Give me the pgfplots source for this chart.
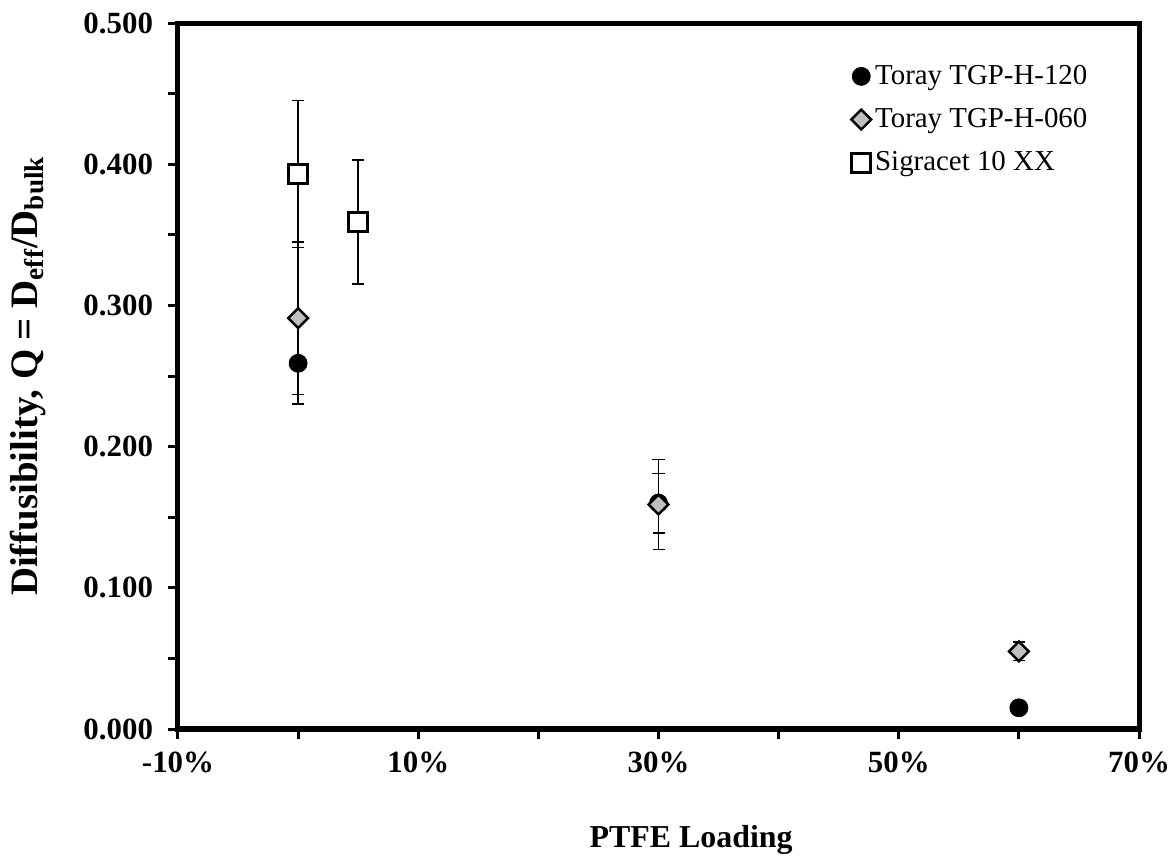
\documentclass[border=0pt]{standalone}
\usepackage{fontspec}
\setmainfont{Liberation Serif}
\usepackage{pgfplots}
\usepackage{pgfplotstable}
\pgfplotsset{compat=1.18}
\pgfplotstableread{
x y e
0 0.259 0.029
30 0.160 0.021
60 0.015 0.000
}\toraytwenty
\pgfplotstableread{
x y e
0 0.291 0.054
30 0.159 0.032
60 0.055 0.0065
}\toraysixty
\pgfplotstableread{
x y e
0 0.393 0.052
5 0.359 0.044
}\sigracet
\begin{document}
\begin{tikzpicture}
\useasboundingbox (-89bp,-64.5bp) rectangle (499bp,364.5bp);
\begin{axis}[
  scale only axis, width=480.5bp, height=353bp,
  xmin=-10, xmax=70, ymin=0, ymax=0.5,
  xtick={-10,10,30,50,70},
  xticklabels={-10\%,10\%,30\%,50\%,70\%},
  minor xtick={0,20,40,60},
  ytick={0,0.1,0.2,0.3,0.4,0.5},
  minor ytick={0.05,0.15,0.25,0.35,0.45},
  xtick pos=lower, ytick pos=left,
  tick align=outside, major tick length=5bp, minor tick length=5bp,
  every tick/.style={line width=1.5bp, black},
  axis line style={line width=2.5bp},
  tick label style={font=\fontsize{15.5}{18}\selectfont\bfseries},
  yticklabel style={xshift=-4bp, /pgf/number format/.cd, fixed, fixed zerofill, precision=3, assume math mode=true},
  xticklabel style={yshift=-3bp},
  xlabel={PTFE Loading},
  ylabel={Diffusibility, Q = D\textsubscript{eff}/D\textsubscript{bulk}},
  xlabel style={font=\fontsize{16}{19}\selectfont\bfseries, at={(axis description cs:0.534,-0.157)}, anchor=center},
  ylabel style={font=\fontsize{19.5}{22}\selectfont\bfseries, at={(axis description cs:-0.156,0.5)}, anchor=center},
  legend style={draw=none, fill=none, at={(0.955,0.952)}, anchor=north east,
    font=\fontsize{14.5}{17}\selectfont, row sep=6.5bp, inner sep=2bp},
  legend cell align=left,
  error bars/y dir=both, error bars/y explicit,
  error bars/error bar style={line width=0.8bp, black},
  error bars/error mark options={rotate=90, mark size=3bp, line width=0.8bp, black},
]
\addplot[only marks, mark=*, mark size=4.5bp, mark options={fill=black, draw=black}]
  table[x=x, y=y, y error=e] {\toraytwenty};
\addlegendentry{Toray TGP-H-120}
\addplot[only marks, mark=square*, mark size=3.5bp, mark options={rotate=45, fill=black!25, draw=black, line width=1.2bp}]
  table[x=x, y=y, y error=e] {\toraysixty};
\addlegendentry{Toray TGP-H-060}
\addplot[only marks, mark=square*, mark size=4.8bp, mark options={fill=white, draw=black, line width=1.5bp}]
  table[x=x, y=y, y error=e] {\sigracet};
\addlegendentry{Sigracet 10 XX}
\end{axis}
\end{tikzpicture}
\end{document}
